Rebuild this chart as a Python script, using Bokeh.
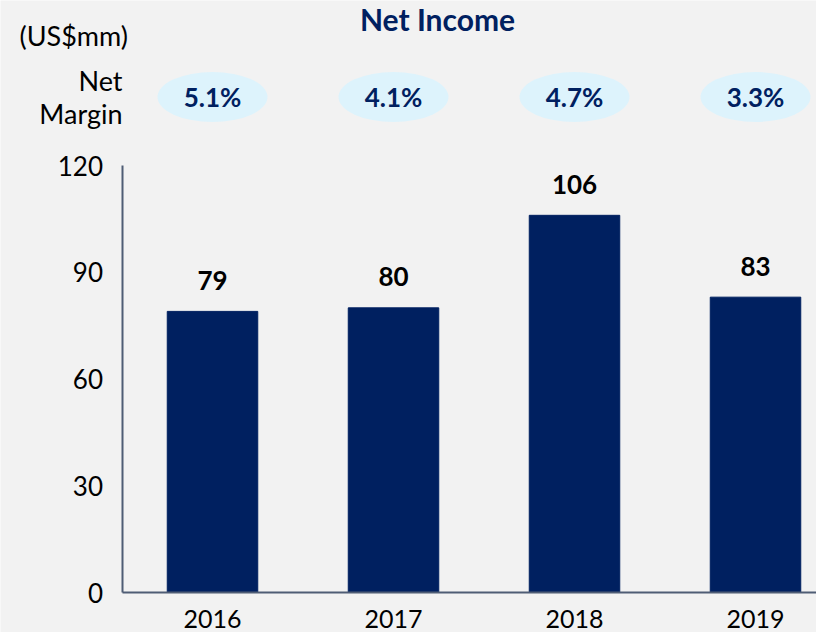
from bokeh.plotting import figure
from bokeh.models import Range1d, FixedTicker, Label, ColumnDataSource
from bokeh.core.properties import value
from bokeh.embed import file_html
from bokeh.resources import INLINE

# ---- data ----
years = ["2016", "2017", "2018", "2019"]
net_income = [79, 80, 106, 83]
net_margin = [5.1, 4.1, 4.7, 3.3]
y_ticks = [0, 30, 60, 90, 120]

FONT = "Lato"
NAVY = "#002060"
BG = "#f2f2f2"
AXIS = "#4f5d75"

xs = list(range(len(years)))
src = ColumnDataSource(dict(
    x=xs,
    top=net_income,
    lbl=[str(v) for v in net_income],
    mlbl=["%.1f%%" % m for m in net_margin],
))

W, H = 816, 632
PX = 181.0        # pixels per category
X0 = 121.5        # pixel position of the value axis
YB = 592.0        # pixel position of the baseline
PY = 427.0 / 120  # pixels per unit

p = figure(width=W, height=H, output_backend="svg", toolbar_location=None,
           x_range=Range1d(-0.5 - X0 / PX, -0.5 + (W - X0) / PX),
           y_range=Range1d(-(H - YB) / PY, YB / PY),
           min_border_left=0, min_border_right=0, min_border_top=0,
           min_border_bottom=0)
p.background_fill_color = BG
p.border_fill_color = BG
p.outline_line_color = None
p.grid.visible = False

# bars
p.vbar(x="x", top="top", bottom=0, width=0.5, source=src,
       fill_color=NAVY, line_color=NAVY)

# value labels
p.text(x="x", y="top", text="lbl", source=src, text_align="center",
       text_baseline="middle", y_offset=-31, text_font=value(FONT),
       text_font_style="bold", text_font_size="26px", text_color="black")

# net margin bubbles
YM = (YB - 96.5) / PY
p.ellipse(x="x", y=YM, width=110, height=50, width_units="screen",
          height_units="screen", source=src, fill_color="#ddf3fc", line_color=None)
p.text(x="x", y=YM, text="mlbl", source=src, text_align="center",
       text_baseline="middle", text_font=value(FONT), text_font_style="bold",
       text_font_size="26px", text_color=NAVY)

# axes (drawn at fixed positions inside the frame)
p.yaxis.fixed_location = -0.5
p.yaxis.ticker = FixedTicker(ticks=y_ticks)
p.yaxis.bounds = (0, 120)
p.yaxis.major_tick_out = 0
p.yaxis.major_tick_in = 0
p.yaxis.minor_tick_line_color = None
p.yaxis.axis_line_color = AXIS
p.yaxis.axis_line_width = 2
p.yaxis.major_label_standoff = 19
p.yaxis.major_label_text_font = FONT
p.yaxis.major_label_text_font_size = "26px"
p.yaxis.major_label_text_color = "black"

p.xaxis.fixed_location = 0
p.xaxis.ticker = FixedTicker(ticks=xs)
p.xaxis.bounds = (-0.5, 10)
p.xaxis.major_label_overrides = {i: y for i, y in zip(xs, years)}
p.xaxis.major_tick_out = 0
p.xaxis.major_tick_in = 0
p.xaxis.minor_tick_line_color = None
p.xaxis.axis_line_color = AXIS
p.xaxis.axis_line_width = 2
p.xaxis.major_label_standoff = 17
p.xaxis.major_label_text_font = FONT
p.xaxis.major_label_text_font_size = "25px"
p.xaxis.major_label_text_color = "black"


def lx(px):
    return -0.5 + (px - X0) / PX


def ly(py):
    return (YB - py) / PY


# texts around the chart
p.add_layout(Label(x=lx(437), y=ly(0), text="Net Income", text_align="center",
                   text_baseline="top", text_font=FONT, text_font_style="bold",
                   text_font_size="30px", text_color=NAVY))
p.add_layout(Label(x=lx(19), y=ly(35), text="(US$mm)", text_align="left",
                   text_baseline="middle", text_font=FONT, text_font_size="27px",
                   text_color="black"))
p.add_layout(Label(x=lx(122), y=ly(80), text="Net", text_align="right",
                   text_baseline="middle", text_font=FONT, text_font_size="27px",
                   text_color="black"))
p.add_layout(Label(x=lx(122), y=ly(113), text="Margin", text_align="right",
                   text_baseline="middle", text_font=FONT, text_font_size="27px",
                   text_color="black"))

open("out.html", "w").write(file_html(p, INLINE))
